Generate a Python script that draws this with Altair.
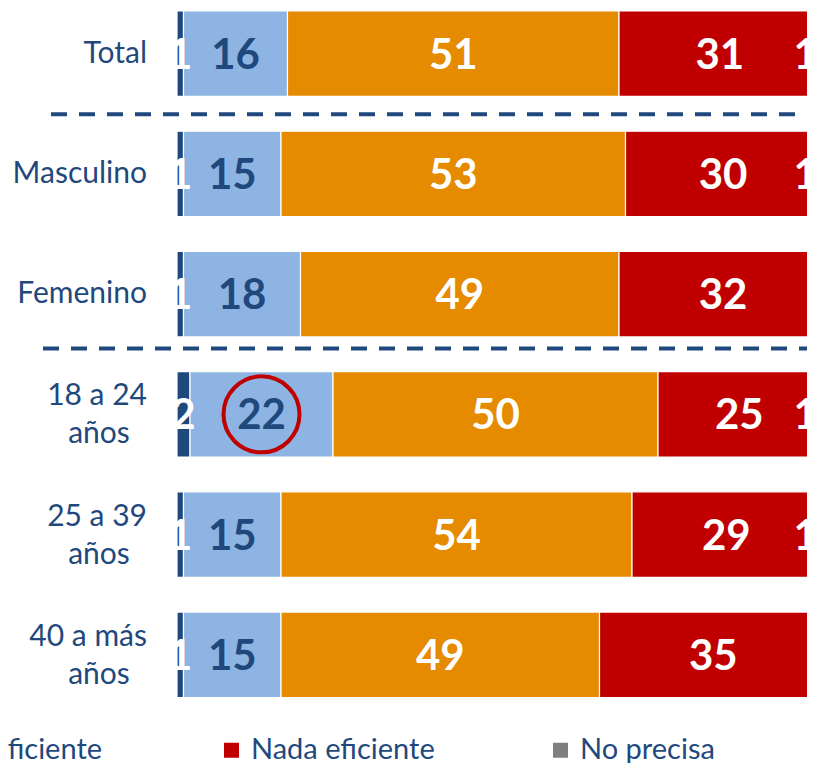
import altair as alt
import pandas as pd

categories = ["Total", "Masculino", "Femenino", "18 a 24 años", "25 a 39 años", "40 a más años"]
series = ["Muy eficiente", "Eficiente", "Poco eficiente", "Nada eficiente", "No precisa"]
colors = ["#1F497D", "#8DB4E2", "#E68A00", "#C00000", "#7F7F7F"]

muy_eficiente = [1, 1, 1, 2, 1, 1]
eficiente = [16, 15, 18, 22, 15, 15]
poco_eficiente = [51, 53, 49, 50, 54, 49]
nada_eficiente = [31, 30, 32, 25, 29, 35]
no_precisa = [1, 1, 0, 1, 1, 0]

highlight_category = "18 a 24 años"
highlight_series = "Eficiente"

rows = []
for ci, cat in enumerate(categories):
    for si, vals in enumerate([muy_eficiente, eficiente, poco_eficiente, nada_eficiente, no_precisa]):
        rows.append({"category": cat, "series": series[si], "order": si, "value": vals[ci]})
df = pd.DataFrame(rows)

DARK = "#1F497D"
x_scale = alt.Scale(domain=[0, 96.92], nice=False, zero=False)
y_scale = alt.Scale(domain=categories, paddingInner=0.289, paddingOuter=0.025)
y_enc = alt.Y("category:N", sort=categories, scale=y_scale, axis=None)

base = alt.Chart(df).transform_filter("datum.value > 0").transform_stack(
    stack="value", groupby=["category"], as_=["x0", "x1"],
    sort=[alt.SortField("order", order="ascending")],
).transform_calculate(mid="(datum.x0 + datum.x1) / 2")

bars = base.mark_bar(stroke="white", strokeWidth=1.2, clip=True).encode(
    x=alt.X("x0:Q", scale=x_scale, axis=None),
    x2="x1:Q",
    y=y_enc,
    color=alt.Color(
        "series:N",
        scale=alt.Scale(domain=series, range=colors),
        legend=alt.Legend(
            title=None, orient="none", legendX=-947, legendY=727.5,
            direction="horizontal", columns=5, gridAlign="all",
            symbolType="square", symbolSize=225, symbolStrokeWidth=0,
            labelFont="Lato", labelFontSize=29, labelColor=DARK,
            labelOffset=5, columnPadding=111, labelLimit=500, padding=0,
        ),
    ),
    order=alt.Order("order:Q"),
)

label_color = alt.condition(alt.datum.series == "Eficiente", alt.value(DARK), alt.value("white"))

labels = base.transform_filter("datum.series != 'No precisa'").mark_text(
    font="Lato", fontWeight="bold", fontSize=42, baseline="middle", dy=2, clip=True
).encode(
    x=alt.X("mid:Q", scale=x_scale, axis=None),
    y=y_enc,
    text="value:Q",
    color=label_color,
)

np_labels = base.transform_filter("datum.series == 'No precisa'").mark_text(
    font="Lato", fontWeight="bold", fontSize=42, baseline="middle", dy=2, dx=-18, clip=True, color="white"
).encode(
    x=alt.X("mid:Q", scale=x_scale, axis=None),
    y=y_enc,
    text="value:Q",
)

circle = base.transform_filter(
    (alt.datum.category == highlight_category) & (alt.datum.series == highlight_series)
).mark_point(shape="circle", filled=False, size=5776, strokeWidth=4, color="#C00000", opacity=1).encode(
    x=alt.X("mid:Q", scale=x_scale, axis=None),
    y=y_enc,
)

# category labels (single line right-aligned; two-line blocks centred like the original)
cat_base = alt.Chart(pd.DataFrame({"category": categories})).transform_calculate(
    two="indexof(datum.category, ' años') > 0",
    line1="replace(datum.category, ' años', '')",
    line2="'años'",
)
txt = dict(font="Lato", fontSize=30, color=DARK, baseline="middle")
cat_single = cat_base.transform_filter("!datum.two").mark_text(align="right", **txt).encode(
    y=y_enc, x=alt.value(-30), text="line1:N"
)
cat_first = cat_base.transform_filter("datum.two").mark_text(align="right", dy=-18, **txt).encode(
    y=y_enc, x=alt.value(-30), text="line1:N"
)
cat_second = cat_base.transform_filter("datum.two").mark_text(align="center", dy=20, **txt).encode(
    y=y_enc, x=alt.value(-78), text="line2:N"
)

sep1 = alt.Chart(pd.DataFrame({"category": ["Masculino"]})).mark_rule(
    color=DARK, strokeWidth=4, strokeDash=[16, 12], yOffset=-17
).encode(
    y=alt.Y("category:N", sort=categories, scale=y_scale, axis=None, bandPosition=0),
    x=alt.value(-126), x2=alt.value(630),
)
sep2 = alt.Chart(pd.DataFrame({"category": ["18 a 24 años"]})).mark_rule(
    color=DARK, strokeWidth=4, strokeDash=[16, 12], yOffset=-23
).encode(
    y=alt.Y("category:N", sort=categories, scale=y_scale, axis=None, bandPosition=0),
    x=alt.value(-134), x2=alt.value(630),
)

chart = alt.layer(
    bars, labels, np_labels, circle, cat_single, cat_first, cat_second, sep1, sep2
).properties(
    width=630, height=692.5,
    padding={"left": 169, "top": 0, "right": 0, "bottom": 62},
    autosize=alt.AutoSizeParams(type="none"),
).configure_view(strokeWidth=0)

chart.save("out.html", embed_options={"renderer": "svg", "actions": False})
